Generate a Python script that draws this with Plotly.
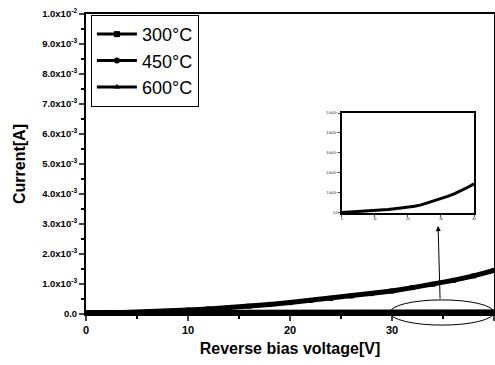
import plotly.graph_objects as go

voltage = [0, 2, 4, 6, 8, 10, 12, 14, 16, 18, 20, 22, 24, 26, 28, 30, 32, 34, 36, 38, 40]
i_300 = [0.0, 0.02e-3, 0.04e-3, 0.06e-3, 0.09e-3, 0.13e-3, 0.17e-3, 0.21e-3, 0.26e-3, 0.32e-3,
         0.38e-3, 0.45e-3, 0.52e-3, 0.60e-3, 0.68e-3, 0.77e-3, 0.88e-3, 0.99e-3, 1.12e-3, 1.27e-3, 1.45e-3]
i_450 = [0.02e-5, 0.04e-5, 0.05e-5, 0.07e-5, 0.09e-5, 0.12e-5, 0.14e-5, 0.17e-5, 0.21e-5, 0.24e-5,
         0.28e-5, 0.33e-5, 0.40e-5, 0.50e-5, 0.60e-5, 0.72e-5, 0.83e-5, 0.95e-5, 1.10e-5, 1.27e-5, 1.45e-5]
i_600 = [0.01e-5, 0.02e-5, 0.03e-5, 0.04e-5, 0.05e-5, 0.06e-5, 0.07e-5, 0.08e-5, 0.10e-5, 0.12e-5,
         0.14e-5, 0.16e-5, 0.19e-5, 0.23e-5, 0.27e-5, 0.32e-5, 0.37e-5, 0.43e-5, 0.49e-5, 0.55e-5, 0.62e-5]

series_names = ["300°C", "450°C", "600°C"]
series_symbols = ["square", "circle", "triangle-up"]
y_tickvals = [0, 1e-3, 2e-3, 3e-3, 4e-3, 5e-3, 6e-3, 7e-3, 8e-3, 9e-3, 1e-2]
y_ticktext = ["<b>0.0</b>"] + ["<b>%d.0x10<sup>-3</sup></b>" % k for k in range(1, 10)] + ["<b>1.0x10<sup>-2</sup></b>"]
x_tickvals = [0, 10, 20, 30, 40]
inset_y_tickvals = [0, 1e-5, 2e-5, 3e-5, 4e-5, 5e-5]
inset_y_ticktext = ["0.0"] + ["%d.0x10<sup>-5</sup>" % k for k in range(1, 6)]

FONT = "Liberation Sans, Arial, sans-serif"

fig = go.Figure()
widths = [5, 8, 8]
for name, ys, sym, w in zip(series_names, [i_300, i_450, i_600], series_symbols, widths):
    fig.add_trace(go.Scatter(x=voltage, y=ys, name=name, mode="lines+markers", showlegend=False,
                             line=dict(color="black", width=w),
                             marker=dict(symbol=sym, size=5, color="black")))
# legend entries
for name, sym in zip(series_names, series_symbols):
    fig.add_trace(go.Scatter(x=[None], y=[None], name=name, mode="lines+markers",
                             line=dict(color="black", width=3),
                             marker=dict(symbol=sym, size=6, color="black")))
# inset
fig.add_trace(go.Scatter(x=voltage, y=i_450, xaxis="x2", yaxis="y2", mode="lines", showlegend=False,
                         line=dict(color="black", width=3)))

fig.update_layout(
    width=495, height=365,
    margin=dict(l=86, r=1, t=14, b=51),
    paper_bgcolor="white", plot_bgcolor="white",
    font=dict(family=FONT, color="black"),
    showlegend=True,
    legend=dict(x=0.012, y=0.997, xanchor="left", yanchor="top",
                bordercolor="black", borderwidth=1, bgcolor="white",
                font=dict(size=18, family=FONT, color="black"),
                itemwidth=40, tracegroupgap=0),
    xaxis=dict(range=[0, 40], tickvals=x_tickvals, ticktext=["<b>%d</b>" % v for v in x_tickvals],
               ticks="outside", ticklen=5, tickwidth=1.5, showgrid=False, zeroline=False,
               showline=True, linecolor="black", linewidth=2, mirror=True, automargin=False,
               minor=dict(dtick=5, ticks="outside", ticklen=3, tickcolor="black"),
               tickfont=dict(size=11, family=FONT),
               title=dict(text="<b>Reverse bias voltage[V]</b>", font=dict(size=16, family=FONT), standoff=8)),
    yaxis=dict(range=[0, 0.01], tickvals=y_tickvals, ticktext=y_ticktext,
               ticks="outside", ticklen=5, tickwidth=1.5, showgrid=False, zeroline=False,
               showline=True, linecolor="black", linewidth=2, mirror=True, automargin=False,
               minor=dict(dtick=0.5e-3, ticks="outside", ticklen=3, tickcolor="black"),
               tickfont=dict(size=9.5, family=FONT),
               title=dict(text="<b>Current[A]</b>", font=dict(size=16, family=FONT), standoff=13)),
    xaxis2=dict(domain=[0.627, 0.951], anchor="y2", range=[0, 40], tickvals=x_tickvals,
                ticks="outside", ticklen=2, showgrid=False, zeroline=False, automargin=False,
                showline=True, linecolor="black", linewidth=1.5, mirror=True,
                tickfont=dict(size=3, family=FONT)),
    yaxis2=dict(domain=[0.337, 0.67], anchor="x2", range=[0, 5e-5], tickvals=inset_y_tickvals,
                ticktext=inset_y_ticktext, ticks="outside", ticklen=2, showgrid=False, zeroline=False,
                showline=True, linecolor="black", linewidth=1.5, mirror=True, automargin=False,
                tickfont=dict(size=3, family=FONT)),
    shapes=[dict(type="circle", xref="x domain", yref="y domain", x0=0.745, x1=1.0, y0=-0.037, y1=0.047,
                 line=dict(color="black", width=1))],
    annotations=[dict(xref="paper", yref="paper", x=0.863, y=0.293, ax=2, ay=74, text="",
                      showarrow=True, arrowhead=2, arrowsize=1, arrowwidth=1, arrowcolor="black")],
)

fig.write_html("out.html", config={"displayModeBar": False},
               post_script="document.body.style.margin='0';")
